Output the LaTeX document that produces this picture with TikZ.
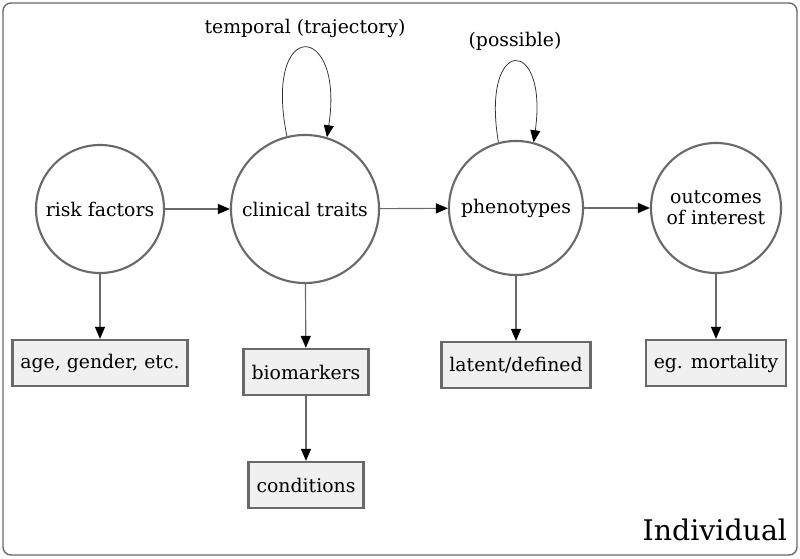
\documentclass[tikz,border=0pt]{standalone}
\usepackage{fontspec}
\setmainfont{DejaVu Serif}
\usetikzlibrary{positioning,arrows.meta}
\definecolor{linegray}{RGB}{105,105,105}
\definecolor{boxfill}{RGB}{240,240,240}

\begin{document}
\begin{tikzpicture}[x=0.025cm,y=-0.025cm,font=\fontsize{13.4}{15}\selectfont]
% 1. Coordinates
\coordinate (c1) at (100,209);
\coordinate (c2) at (305,209);
\coordinate (c3) at (516,208);
\coordinate (c4) at (716,208);

\coordinate (b1) at (100,363);
\coordinate (b2) at (306,372);
\coordinate (b22) at (306,485);
\coordinate (b3) at (516,365);
\coordinate (b4) at (716,363);

% 2. Styles
\tikzset{
  state/.style={
    draw=linegray,
    circle,
    line width=1.5pt,
    inner sep=1pt,
    align=center
  },
  item/.style={
    draw=linegray,
    fill=boxfill,
    line width=1.6pt,
    minimum height=1.15cm,
    inner xsep=0.2cm
  },
  link/.style={
    draw=linegray,
    line width=0.8pt,
    -{Triangle[length=0.3cm,width=0.25cm,black]}
  },
  loop link/.style={
    draw=black!80,
    line width=0.55pt,
    -{Triangle[length=0.3cm,width=0.25cm,black]}
  }
}

% 3. Frame
\useasboundingbox (0,0) rectangle (800,558);
\draw [linegray, line width=1pt, rounded corners=0.2cm] (3,3) rectangle (797,555);

% 4. Nodes
\node [state, minimum size=3.2cm] (risk) at (c1) {risk factors};
\node [state, minimum size=3.7cm] (clin) at (c2) {clinical traits};
\node [state, minimum size=3.35cm] (phen) at (c3) {phenotypes};
\node [state, minimum size=3.25cm] (outc) at (c4) {outcomes\\of interest};

\node [item] (age) at (b1) {age, gender, etc.};
\node [item] (bio) at (b2) {biomarkers};
\node [item] (cond) at (b22) {conditions};
\node [item] (lat) at (b3) {latent/defined};
\node [item] (mort) at (b4) {eg. mortality};

\node (temp) at (305,28) {temporal (trajectory)};
\node (poss) at (515,41) {(possible)};
\node [anchor=base east, font=\fontsize{20.2}{24}\selectfont] (indiv) at (792,540) {Individual};

% 5. Connectors
\draw [link] (risk) -- (clin);
\draw [link] (clin) -- (phen);
\draw [link] (phen) -- (outc);

\draw [link] (risk) -- (age);
\draw [link] (clin) -- (bio);
\draw [link] (bio) -- (cond);
\draw [link] (phen) -- (lat);
\draw [link] (outc) -- (mort);

\draw [loop link] (clin.104) .. controls +(-24,-120) and +(18,-116) .. (clin.73);
\draw [loop link] (phen.105) .. controls +(-18,-108) and +(15,-106) .. (phen.75);

\end{tikzpicture}
\end{document}
